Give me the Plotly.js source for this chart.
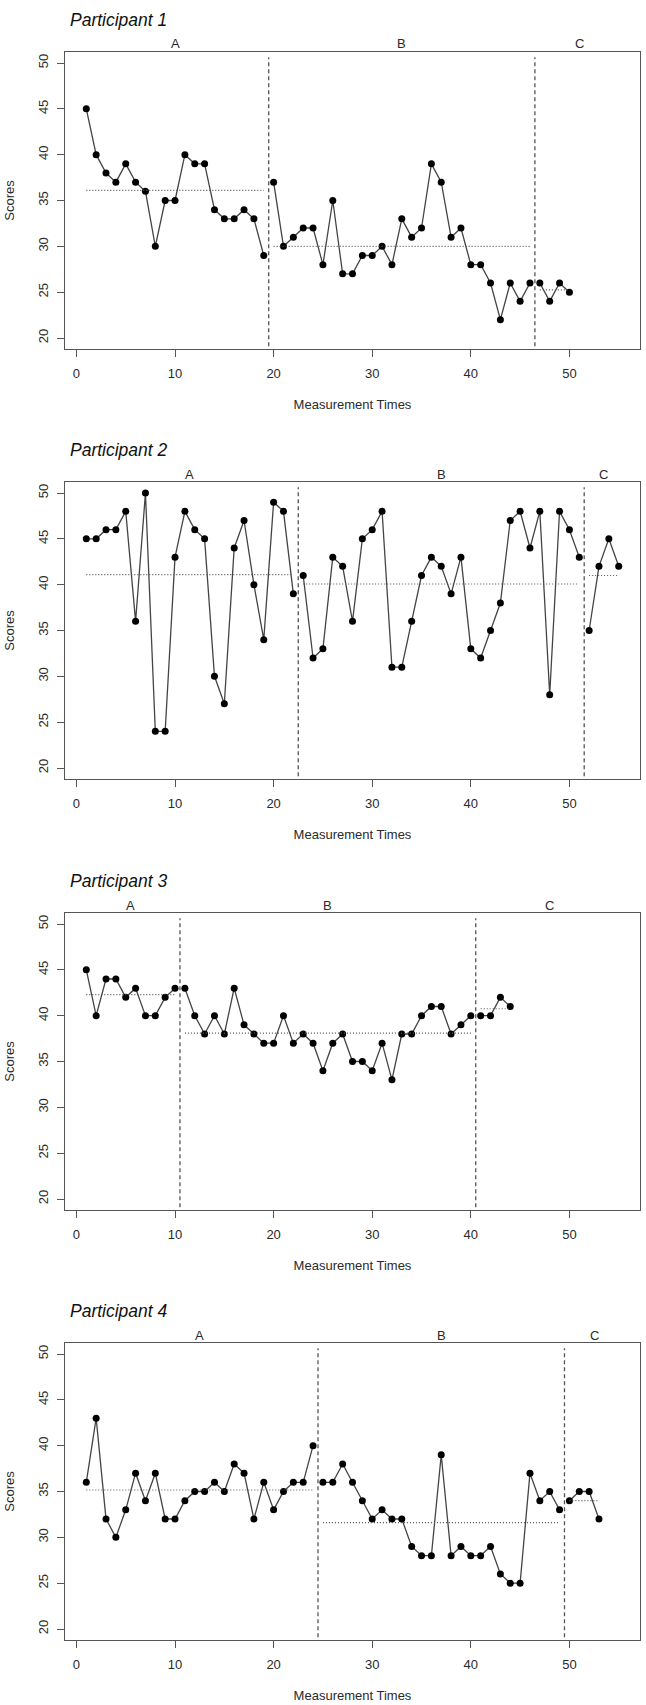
<!DOCTYPE html>
<html>
<head>
<meta charset="utf-8">
<script src="https://cdn.plot.ly/plotly-3.0.1.min.js"></script>
<style>html,body{margin:0;padding:0;background:#fff}#plot{width:646px;height:1705px}</style>
</head>
<body>
<div id="plot"></div>
<script>
// scores per participant, one array per phase (A, B, C)
var p1A = [45,40,38,37,39,37,36,30,35,35,40,39,39,34,33,33,34,33,29];
var p1B = [37,30,31,32,32,28,35,27,27,29,29,30,28,33,31,32,39,37,31,32,28,28,26,22,26,24,26];
var p1C = [26,24,26,25];

var p2A = [45,45,46,46,48,36,50,24,24,43,48,46,45,30,27,44,47,40,34,49,48,39];
var p2B = [41,32,33,43,42,36,45,46,48,31,31,36,41,43,42,39,43,33,32,35,38,47,48,44,48,28,48,46,43];
var p2C = [35,42,45,42];

var p3A = [45,40,44,44,42,43,40,40,42,43];
var p3B = [43,40,38,40,38,43,39,38,37,37,40,37,38,37,34,37,38,35,35,34,37,33,38,38,40,41,41,38,39,40];
var p3C = [40,40,42,41];

var p4A = [36,43,32,30,33,37,34,37,32,32,34,35,35,36,35,38,37,32,36,33,35,36,36,40];
var p4B = [36,36,38,36,34,32,33,32,32,29,28,28,39,28,29,28,28,29,26,25,25,37,34,35,33];
var p4C = [34,35,35,32];

var participants = ["Participant 1","Participant 2","Participant 3","Participant 4"];
var phaseNames = ["A","B","C"];
var xTicks = [0,10,20,30,40,50];
var yTicks = [20,25,30,35,40,45,50];
var lastTime = 55;

var allData = [[p1A,p1B,p1C],[p2A,p2B,p2C],[p3A,p3B,p3C],[p4A,p4B,p4C]];

var W = 646, H = 1705;
var boxTop = [52, 482, 913, 1343], boxH = 297;
var boxL = 65, boxR = 640;
var font = "Liberation Sans, Arial, Helvetica, sans-serif";
var txt = "#2a2a2a";
function py(px){ return 1 - px/H; }
function mean(a){ var s=0; a.forEach(function(v){s+=v;}); return s/a.length; }

var traces = [], shapes = [], annotations = [];
var layout = {
    width: W, height: H,
    margin: {l:0, r:0, t:0, b:0},
    paper_bgcolor: "#fff", plot_bgcolor: "#fff",
    showlegend: false,
    font: {family: font, size: 13, color: txt}
};

allData.forEach(function(phases, i){
    var s = i > 0 ? String(i+1) : "";
    var xa = "x"+s, ya = "y"+s;
    var start = 1;
    phases.forEach(function(vals, k){
        var xs = vals.map(function(v, j){ return start+j; });
        var end = start + vals.length - 1;
        traces.push({
            x: xs, y: vals, xaxis: xa, yaxis: ya,
            mode: "lines+markers",
            line: {color: "#444", width: 1.3},
            marker: {color: "#000", size: 7},
            name: participants[i]+" "+phaseNames[k]
        });
        var m = mean(vals);
        traces.push({
            x: [start, end], y: [m, m], xaxis: xa, yaxis: ya,
            mode: "lines", hoverinfo: "skip",
            line: {color: "#555", width: 1.1, dash: "1px,2px"}
        });
        if (k < phases.length-1) {
            shapes.push({
                type: "line", xref: xa, yref: ya+" domain",
                x0: end+0.5, x1: end+0.5, y0: 0.009, y1: 0.982,
                line: {color: "#555", width: 1.3, dash: "4px,3px"}
            });
        }
        var labelEnd = (k == phases.length-1) ? lastTime : end;
        annotations.push({
            text: phaseNames[k], xref: xa, yref: "paper",
            x: (start+labelEnd)/2, y: py(boxTop[i]-8), yanchor: "middle",
            showarrow: false, font: {family: font, size: 13, color: txt}
        });
        start = end+1;
    });

    annotations.push({
        text: "<i>"+participants[i]+"</i>", xref: "paper", yref: "paper",
        x: 68/W, y: py(boxTop[i]-32), xanchor: "left", yanchor: "middle",
        showarrow: false, font: {family: font, size: 17.5, color: "#111"}
    });

    layout["xaxis"+s] = {
        domain: [boxL/W, boxR/W], anchor: ya,
        range: [-1.16, 57.16], tickvals: xTicks,
        ticks: "outside", ticklen: 7, tickwidth: 1.2, tickcolor: "#555",
        ticklabelstandoff: 5,
        showline: true, mirror: true, linecolor: "#555", linewidth: 1.3,
        showgrid: false, zeroline: false,
        tickfont: {family: font, size: 13, color: txt},
        title: {text: "Measurement Times", font: {family: font, size: 13, color: txt}, standoff: 20}
    };
    layout["yaxis"+s] = {
        domain: [py(boxTop[i]+boxH), py(boxTop[i])], anchor: xa,
        range: [18.8, 51.2], tickvals: yTicks, tickangle: -90,
        ticks: "outside", ticklen: 7, tickwidth: 1.2, tickcolor: "#555",
        ticklabelstandoff: 4,
        showline: true, mirror: true, linecolor: "#555", linewidth: 1.3,
        showgrid: false, zeroline: false,
        tickfont: {family: font, size: 13, color: txt},
        title: {text: "Scores", font: {family: font, size: 13, color: txt}, standoff: 18}
    };
});

layout.shapes = shapes;
layout.annotations = annotations;

Plotly.newPlot("plot", traces, layout, {displayModeBar: false});
</script>
</body>
</html>
